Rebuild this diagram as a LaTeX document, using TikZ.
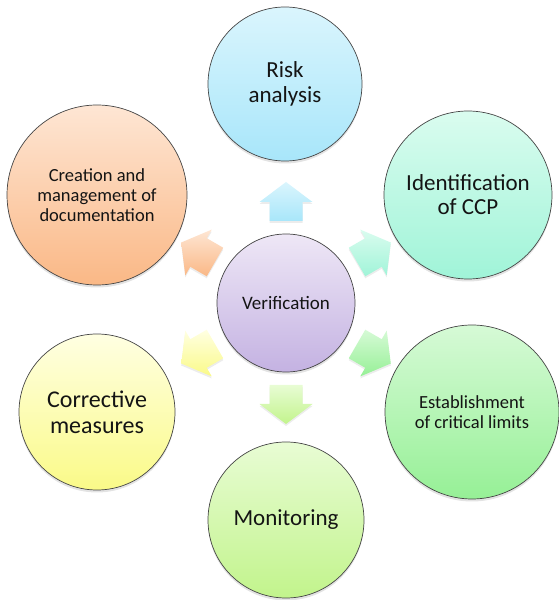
\documentclass[tikz,border=0pt]{standalone}
\usepackage{fontspec}
\setmainfont{Carlito}
\usetikzlibrary{calc,shadows}
\definecolor{circline}{HTML}{454545}
\definecolor{textcol}{HTML}{141414}
\definecolor{vtop}{HTML}{EEE7F6}\definecolor{vbot}{HTML}{C4B2E2}
\definecolor{rtop}{HTML}{DAF5FD}\definecolor{rbot}{HTML}{A8E6FA}
\definecolor{itop}{HTML}{DAFCEF}\definecolor{ibot}{HTML}{A0F4D8}
\definecolor{etop}{HTML}{D6FAD6}\definecolor{ebot}{HTML}{96F096}
\definecolor{mtop}{HTML}{E8FCD4}\definecolor{mbot}{HTML}{C2F48C}
\definecolor{ctop}{HTML}{FFFFE2}\definecolor{cbot}{HTML}{FAFA88}
\definecolor{dtop}{HTML}{FEE6D4}\definecolor{dbot}{HTML}{FAB886}
\newcommand\hacarrow[3]{%
  \path[flow, top color=#2, bottom color=#3]
    ($(V)+(#1:82)+(#1+90:16.5)$) -- ($(V)+(#1:101)+(#1+90:16.5)$) --
    ($(V)+(#1:101)+(#1+90:26.5)$) -- ($(V)+(#1:121)$) --
    ($(V)+(#1:101)+(#1-90:26.5)$) -- ($(V)+(#1:101)+(#1-90:16.5)$) --
    ($(V)+(#1:82)+(#1-90:16.5)$) -- cycle;}
\begin{document}
\begin{tikzpicture}[x=1pt,y=1pt,
  stage/.style={circle, draw=circline, line width=0.7pt, inner sep=0pt,
    align=center, text=textcol,
    drop shadow={shadow xshift=0pt, shadow yshift=-2.5pt, opacity=0.22}},
  flow/.style={draw=none,
    drop shadow={shadow xshift=0pt, shadow yshift=-2pt, opacity=0.15}}]
\useasboundingbox (0,0) rectangle (558,600);
\node[stage, minimum size=138pt, top color=vtop, bottom color=vbot,
  font=\fontsize{19}{22}\selectfont] (V) at (286,297) {Verification};
\node[stage, minimum size=154pt, top color=rtop, bottom color=rbot,
  font=\fontsize{23}{25}\selectfont] (R) at (285,516) {Risk\\analysis};
\node[stage, minimum size=168pt, top color=itop, bottom color=ibot,
  font=\fontsize{23}{24}\selectfont] (I) at (468,405) {Identification\\of CCP};
\node[stage, minimum size=174pt, top color=etop, bottom color=ebot,
  font=\fontsize{18.5}{20}\selectfont] (E) at (472,188) {Establishment\\of critical limits};
\node[stage, minimum size=156pt, top color=mtop, bottom color=mbot,
  font=\fontsize{23}{25}\selectfont] (M) at (286,80) {Monitoring};
\node[stage, minimum size=156pt, top color=ctop, bottom color=cbot,
  font=\fontsize{24}{26}\selectfont] (C) at (97,188) {Corrective\\measures};
\node[stage, minimum size=180pt, top color=dtop, bottom color=dbot,
  font=\fontsize{18.5}{20}\selectfont] (D) at (97,405) {Creation and\\management of\\documentation};
\hacarrow{90}{rtop}{rbot}
\hacarrow{30}{itop}{ibot}
\hacarrow{-30}{etop}{ebot}
\hacarrow{-90}{mtop}{mbot}
\hacarrow{-150}{ctop}{cbot}
\hacarrow{150}{dtop}{dbot}
\end{tikzpicture}
\end{document}
